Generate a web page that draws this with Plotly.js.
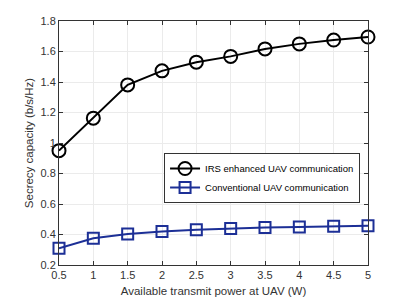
<!DOCTYPE html>
<html><head><meta charset="utf-8">
<script src="https://cdn.plot.ly/plotly-3.0.1.min.js"></script>
<style>html,body{margin:0;padding:0;background:#fff}#c{width:399px;height:299px}</style>
</head><body><div id="c"></div>
<script>
const power = [0.5, 1, 1.5, 2, 2.5, 3, 3.5, 4, 4.5, 5];
const irs = [0.95, 1.163, 1.381, 1.473, 1.530, 1.568, 1.617, 1.650, 1.675, 1.695];
const conventional = [0.31, 0.375, 0.404, 0.420, 0.431, 0.439, 0.446, 0.450, 0.454, 0.457];
const names = ["IRS enhanced UAV communication", "Conventional UAV communication"];
const xTicks = [0.5, 1, 1.5, 2, 2.5, 3, 3.5, 4, 4.5, 5];
const xTickText = ["0.5", "1", "1.5", "2", "2.5", "3", "3.5", "4", "4.5", "5"];
const yTicks = [0.2, 0.4, 0.6, 0.8, 1, 1.2, 1.4, 1.6, 1.8];
const yTickText = ["0.2", "0.4", "0.6", "0.8", "1", "1.2", "1.4", "1.6", "1.8"];

const blue = "#1c2f96";
const axc = "#333333";
const font = "Liberation Sans, Arial, sans-serif";

const traces = [
  {x: power, y: irs, name: names[0], type: "scatter", mode: "lines+markers", cliponaxis: false,
   line: {color: "#000", width: 2},
   marker: {symbol: "circle-open", size: 13, color: "#000", line: {width: 2, color: "#000"}}},
  {x: power, y: conventional, name: names[1], type: "scatter", mode: "lines+markers", cliponaxis: false,
   line: {color: blue, width: 2},
   marker: {symbol: "square-open", size: 11, color: blue, line: {width: 2, color: blue}}}
];

const layout = {
  width: 399, height: 299,
  margin: {l: 59, r: 31, t: 21, b: 34},
  paper_bgcolor: "#fff", plot_bgcolor: "#fff",
  font: {family: font, size: 10, color: axc},
  showlegend: true,
  legend: {x: 0.34, y: 0.459, xanchor: "left", yanchor: "top",
           bgcolor: "#fff", bordercolor: axc, borderwidth: 1,
           font: {family: font, size: 9.5, color: "#000"},
           tracegroupgap: 0, itemwidth: 30},
  xaxis: {range: [0.5, 5], tickvals: xTicks, ticktext: xTickText,
          showgrid: true, gridcolor: "#ebebeb", gridwidth: 1,
          showline: true, linecolor: axc, linewidth: 1, mirror: "ticks",
          ticks: "inside", ticklen: 4, tickcolor: axc, zeroline: false,
          tickfont: {size: 11, color: axc},
          title: {text: "Available transmit power at UAV (W)", font: {size: 11.5, color: axc}, standoff: 6}},
  yaxis: {range: [0.2, 1.8], tickvals: yTicks, ticktext: yTickText,
          showgrid: true, gridcolor: "#ebebeb", gridwidth: 1,
          showline: true, linecolor: axc, linewidth: 1, mirror: "ticks",
          ticks: "inside", ticklen: 4, tickcolor: axc, zeroline: false,
          tickfont: {size: 11, color: axc},
          title: {text: "Secrecy capacity (b/s/Hz)", font: {size: 11.5, color: axc}, standoff: 4}}
};
Plotly.newPlot("c", traces, layout, {staticPlot: true, displayModeBar: false});
</script></body></html>
